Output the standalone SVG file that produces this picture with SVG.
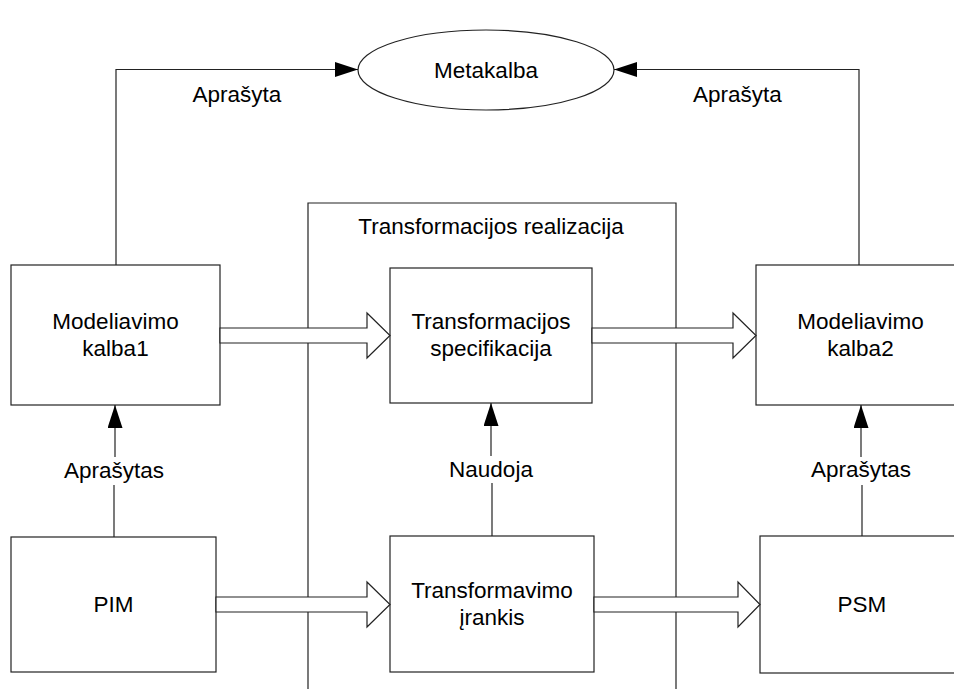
<svg xmlns="http://www.w3.org/2000/svg" width="954" height="689" viewBox="0 0 954 689">
<style>
.box{fill:#fff;stroke:#222;stroke-width:1.2}
.ln{fill:none;stroke:#222;stroke-width:1.2}
.big{fill:#fff;stroke:#222;stroke-width:1.2;stroke-linejoin:miter}
text{font-family:"Liberation Sans",Arial,sans-serif;font-size:22.5px;fill:#000;text-anchor:middle}
</style>
<defs>
<marker id="ah" markerUnits="userSpaceOnUse" markerWidth="24" markerHeight="16" refX="23" refY="7.5" orient="auto">
<path d="M0,0 L23,7.5 L0,15 Z" fill="#000"/>
</marker>
</defs>
<g id="frame">
<path class="ln" d="M308,689 V203 H676 V689"/>
<text x="491" y="234">Transformacijos realizacija</text>
</g>
<g id="metakalba">
<ellipse cx="486" cy="70" rx="128" ry="40" class="box"/>
<text x="486" y="78">Metakalba</text>
</g>
<g id="kalba1">
<rect x="11" y="265" width="209" height="140" class="box"/>
<text x="115.5" y="329">Modeliavimo</text>
<text x="115.5" y="356">kalba1</text>
</g>
<g id="spec">
<rect x="390" y="268" width="202" height="135" class="box"/>
<text x="491" y="329">Transformacijos</text>
<text x="491" y="356">specifikacija</text>
</g>
<g id="kalba2">
<rect x="756" y="265" width="209" height="140" class="box"/>
<text x="860.5" y="329">Modeliavimo</text>
<text x="860.5" y="356">kalba2</text>
</g>
<g id="pim">
<rect x="11" y="537" width="205" height="135" class="box"/>
<text x="113.5" y="612">PIM</text>
</g>
<g id="tool">
<rect x="390" y="536" width="204" height="136" class="box"/>
<text x="492" y="598">Transformavimo</text>
<text x="492" y="625">įrankis</text>
</g>
<g id="psm">
<rect x="760" y="536" width="205" height="137" class="box"/>
<text x="862" y="612">PSM</text>
</g>
<g id="connectors">
<path class="ln" d="M116,265 V69.5 H358" marker-end="url(#ah)"/>
<path class="ln" d="M859,265 V69.5 H614" marker-end="url(#ah)"/>
<text x="237" y="102">Aprašyta</text>
<text x="737.5" y="102">Aprašyta</text>
<path class="ln" d="M114,537 V485"/>
<path class="ln" d="M115,457 V405" marker-end="url(#ah)"/>
<text x="114" y="478">Aprašytas</text>
<path class="ln" d="M492,536 V483"/>
<path class="ln" d="M491,456 V403" marker-end="url(#ah)"/>
<text x="491" y="477">Naudoja</text>
<path class="ln" d="M862,536 V485"/>
<path class="ln" d="M861,457 V405" marker-end="url(#ah)"/>
<text x="861" y="477">Aprašytas</text>
<polygon class="big" points="220,328 367,328 367,313 390,335.5 367,358 367,343 220,343"/>
<polygon class="big" points="592,328 733,328 733,313 756,335.5 733,358 733,343 592,343"/>
<polygon class="big" points="216,597 367,597 367,582 390,604.5 367,627 367,612 216,612"/>
<polygon class="big" points="594,597 738,597 738,582 760,604.5 738,627 738,612 594,612"/>
</g>
</svg>
